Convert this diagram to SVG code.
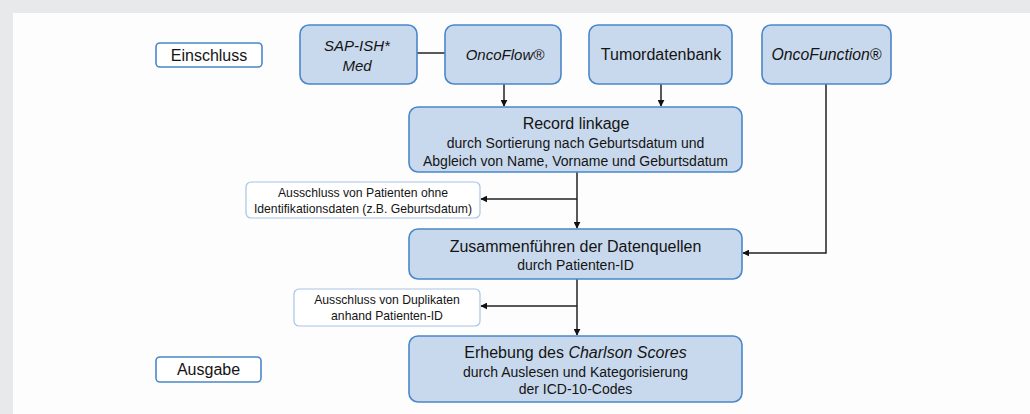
<svg xmlns="http://www.w3.org/2000/svg" width="1030" height="414" viewBox="0 0 1030 414">
<defs>
<style>
text{font-family:"Liberation Sans",Arial,sans-serif;fill:#141414;text-anchor:middle}
.n{fill:#c9d9ed;stroke:#4a86c8;stroke-width:1.6}
.l{fill:#fff;stroke:#4a86c8;stroke-width:1.6}
.x{fill:#fff;stroke:#a8c4e6;stroke-width:1.2}
.c{fill:none;stroke:#222;stroke-width:1.5}
.t{font-size:16px}
.ti{font-size:15px;font-style:italic}
.s{font-size:14px}
.e{font-size:12.2px}
.i{font-style:italic}
</style>
<marker id="a" viewBox="0 0 10 10" refX="9" refY="5" markerWidth="7" markerHeight="7" markerUnits="userSpaceOnUse" orient="auto"><path d="M0,0 L10,5 L0,10 z" fill="#111"/></marker>
</defs>
<rect x="0" y="0" width="1030" height="414" fill="#e8e9eb"/>
<rect x="13" y="13" width="1017" height="401" fill="#fdfdfd"/>
<g id="connectors">
<line class="c" x1="417" y1="53" x2="445" y2="53"/>
<line class="c" x1="504" y1="84" x2="504" y2="106" marker-end="url(#a)"/>
<line class="c" x1="661" y1="84" x2="661" y2="106" marker-end="url(#a)"/>
<line class="c" x1="577" y1="172" x2="577" y2="228" marker-end="url(#a)"/>
<line class="c" x1="577" y1="199" x2="481" y2="199" marker-end="url(#a)"/>
<polyline class="c" points="826,84 826,253 743,253" marker-end="url(#a)"/>
<line class="c" x1="577" y1="279" x2="577" y2="335" marker-end="url(#a)"/>
<line class="c" x1="577" y1="306" x2="481" y2="306" marker-end="url(#a)"/>
</g>
<g id="einschluss"><rect class="l" x="156" y="43" width="106" height="24" rx="4"/><text class="t" x="209" y="61">Einschluss</text></g>
<g id="sap"><rect class="n" x="300" y="25" width="117" height="59" rx="9"/><text class="ti" x="357" y="51">SAP-ISH*</text><text class="ti" x="357" y="71">Med</text></g>
<g id="oncoflow"><rect class="n" x="445" y="25" width="116" height="59" rx="9"/><text class="ti" x="505" y="60">OncoFlow®</text></g>
<g id="tumordatenbank"><rect class="n" x="589" y="25" width="143" height="59" rx="9"/><text class="t" x="661" y="60">Tumordatenbank</text></g>
<g id="oncofunction"><rect class="n" x="762" y="25" width="129" height="59" rx="9"/><text class="ti" x="826.5" y="60" style="font-size:15.8px">OncoFunction®</text></g>
<g id="recordlinkage"><rect class="n" x="409" y="107" width="333" height="65" rx="9"/><text class="t" x="576" y="129">Record linkage</text><text class="s" x="575.5" y="148">durch Sortierung nach Geburtsdatum und</text><text class="s" x="575.5" y="166">Abgleich von Name, Vorname und Geburtsdatum</text></g>
<g id="ausschluss1"><rect class="x" x="246" y="182" width="234" height="36" rx="5"/><text class="e" x="363" y="197">Ausschluss von Patienten ohne</text><text class="e" x="363" y="213">Identifikationsdaten (z.B. Geburtsdatum)</text></g>
<g id="zusammen"><rect class="n" x="409" y="229" width="333" height="50" rx="9"/><text class="t" x="575.5" y="252">Zusammenführen der Datenquellen</text><text class="s" x="575.5" y="270">durch Patienten-ID</text></g>
<g id="ausschluss2"><rect class="x" x="294" y="289" width="186" height="37" rx="5"/><text class="e" x="387" y="304">Ausschluss von Duplikaten</text><text class="e" x="387" y="320">anhand Patienten-ID</text></g>
<g id="erhebung"><rect class="n" x="409" y="336" width="333" height="66" rx="9"/><text class="t" x="575.5" y="358">Erhebung des <tspan class="i">Charlson Scores</tspan></text><text class="s" x="575.5" y="377">durch Auslesen und Kategorisierung</text><text class="s" x="575.5" y="394">der ICD-10-Codes</text></g>
<g id="ausgabe"><rect class="l" x="156" y="357" width="105" height="25" rx="4"/><text class="t" x="208.5" y="375">Ausgabe</text></g>
</svg>
